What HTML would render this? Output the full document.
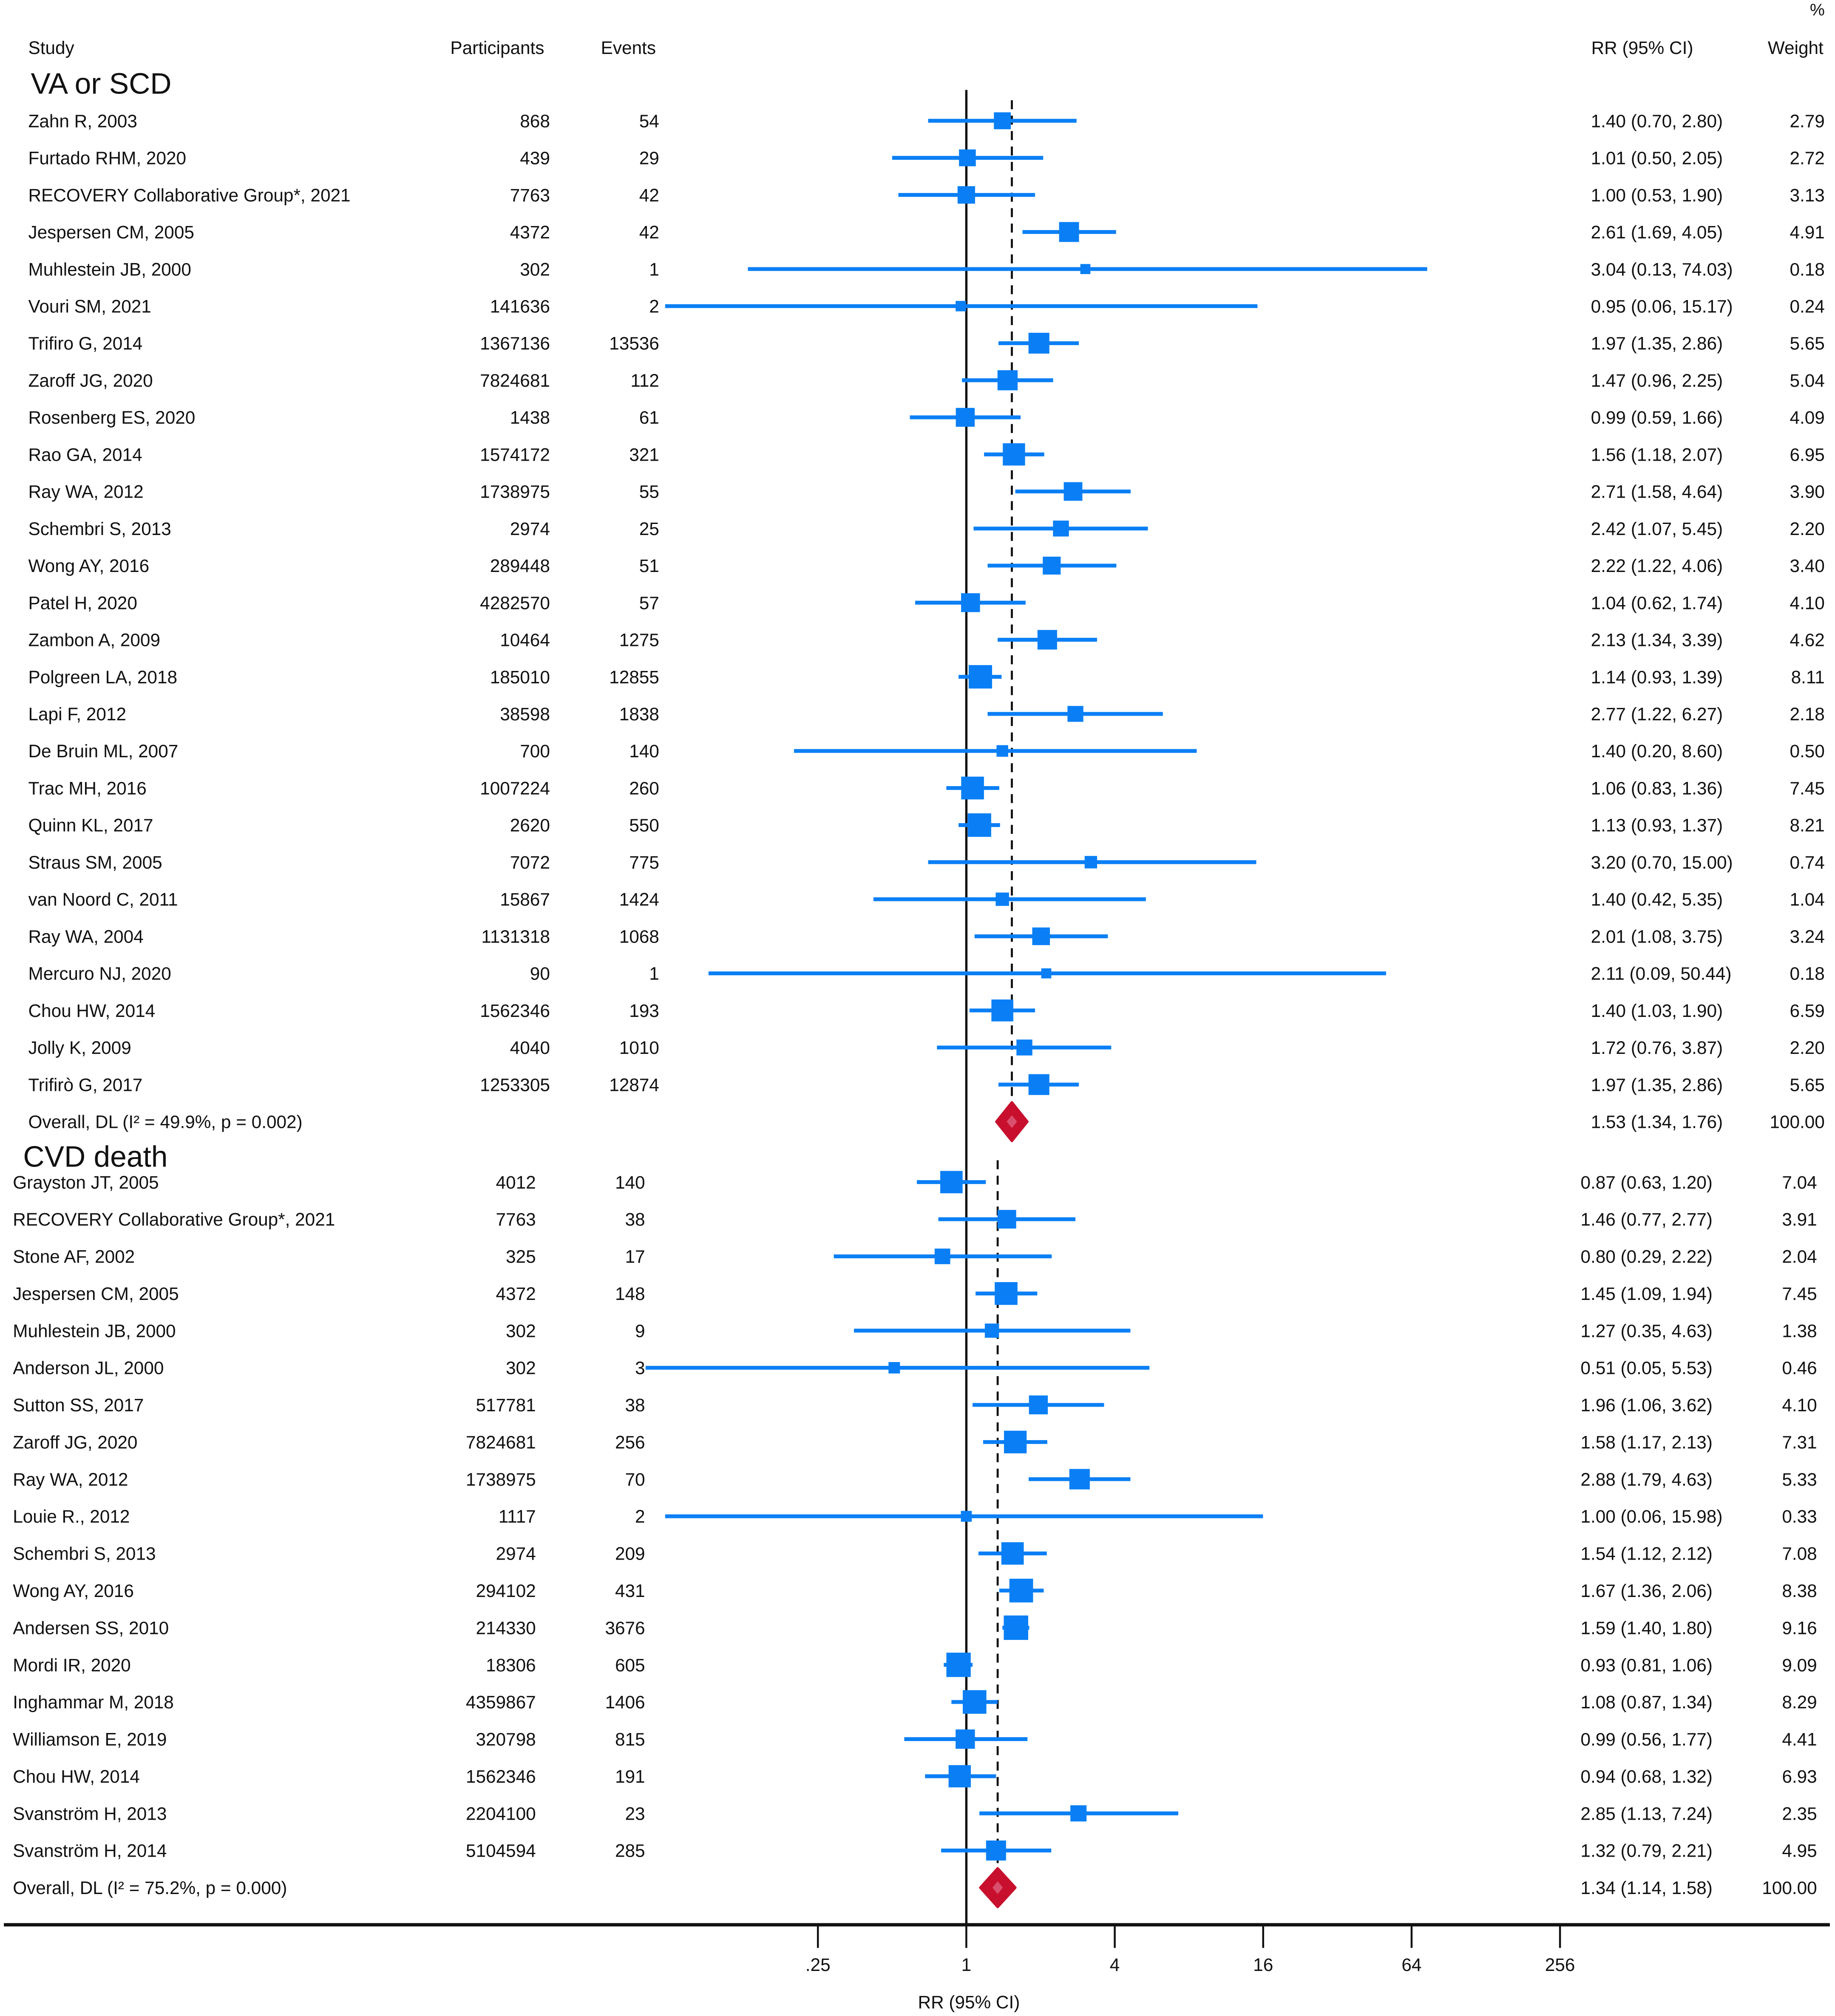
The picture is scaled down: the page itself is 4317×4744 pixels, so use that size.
<!DOCTYPE html>
<html><head><meta charset="utf-8"><style>
html,body{margin:0;padding:0;background:#fff;}
svg{display:block;}
text{font-family:"Liberation Sans",Arial,sans-serif;fill:#111;}
</style></head><body>
<svg id="chart" width="4317" height="4744" viewBox="0 0 1428 1569" preserveAspectRatio="none" xmlns="http://www.w3.org/2000/svg">
<text x="1420" y="12" font-size="13" text-anchor="end">%</text>
<text x="22" y="42" font-size="14">Study</text>
<text x="387" y="42" font-size="14" text-anchor="middle">Participants</text>
<text x="489" y="42" font-size="14" text-anchor="middle">Events</text>
<text x="1278" y="42" font-size="14" text-anchor="middle">RR (95% CI)</text>
<text x="1419" y="42" font-size="14" text-anchor="end">Weight</text>
<text x="24" y="73" font-size="23">VA or SCD</text>
<text x="18" y="908" font-size="23">CVD death</text>
<g id="marks"></g>
<text x="754" y="1563" font-size="14" text-anchor="middle">RR (95% CI)</text>
</svg>
<script>
// Section 1: VA or SCD
const s1Studies = ["Zahn R, 2003","Furtado RHM, 2020","RECOVERY Collaborative Group*, 2021","Jespersen CM, 2005","Muhlestein JB, 2000","Vouri SM, 2021","Trifiro G, 2014","Zaroff JG, 2020","Rosenberg ES, 2020","Rao GA, 2014","Ray WA, 2012","Schembri S, 2013","Wong AY, 2016","Patel H, 2020","Zambon A, 2009","Polgreen LA, 2018","Lapi F, 2012","De Bruin ML, 2007","Trac MH, 2016","Quinn KL, 2017","Straus SM, 2005","van Noord C, 2011","Ray WA, 2004","Mercuro NJ, 2020","Chou HW, 2014","Jolly K, 2009","Trifirò G, 2017"];
const s1Participants = ["868","439","7763","4372","302","141636","1367136","7824681","1438","1574172","1738975","2974","289448","4282570","10464","185010","38598","700","1007224","2620","7072","15867","1131318","90","1562346","4040","1253305"];
const s1Events = ["54","29","42","42","1","2","13536","112","61","321","55","25","51","57","1275","12855","1838","140","260","550","775","1424","1068","1","193","1010","12874"];
const s1RR = [1.40,1.01,1.00,2.61,3.04,0.95,1.97,1.47,0.99,1.56,2.71,2.42,2.22,1.04,2.13,1.14,2.77,1.40,1.06,1.13,3.20,1.40,2.01,2.11,1.40,1.72,1.97];
const s1Lo = [0.70,0.50,0.53,1.69,0.13,0.06,1.35,0.96,0.59,1.18,1.58,1.07,1.22,0.62,1.34,0.93,1.22,0.20,0.83,0.93,0.70,0.42,1.08,0.09,1.03,0.76,1.35];
const s1Hi = [2.80,2.05,1.90,4.05,74.03,15.17,2.86,2.25,1.66,2.07,4.64,5.45,4.06,1.74,3.39,1.39,6.27,8.60,1.36,1.37,15.00,5.35,3.75,50.44,1.90,3.87,2.86];
const s1Weight = [2.79,2.72,3.13,4.91,0.18,0.24,5.65,5.04,4.09,6.95,3.90,2.20,3.40,4.10,4.62,8.11,2.18,0.50,7.45,8.21,0.74,1.04,3.24,0.18,6.59,2.20,5.65];
const s1Overall = [1.53,1.34,1.76];
const s1OverallLabel = "Overall, DL (I² = 49.9%, p = 0.002)";
// Section 2: CVD death
const s2Studies = ["Grayston JT, 2005","RECOVERY Collaborative Group*, 2021","Stone AF, 2002","Jespersen CM, 2005","Muhlestein JB, 2000","Anderson JL, 2000","Sutton SS, 2017","Zaroff JG, 2020","Ray WA, 2012","Louie R., 2012","Schembri S, 2013","Wong AY, 2016","Andersen SS, 2010","Mordi IR, 2020","Inghammar M, 2018","Williamson E, 2019","Chou HW, 2014","Svanström H, 2013","Svanström H, 2014"];
const s2Participants = ["4012","7763","325","4372","302","302","517781","7824681","1738975","1117","2974","294102","214330","18306","4359867","320798","1562346","2204100","5104594"];
const s2Events = ["140","38","17","148","9","3","38","256","70","2","209","431","3676","605","1406","815","191","23","285"];
const s2RR = [0.87,1.46,0.80,1.45,1.27,0.51,1.96,1.58,2.88,1.00,1.54,1.67,1.59,0.93,1.08,0.99,0.94,2.85,1.32];
const s2Lo = [0.63,0.77,0.29,1.09,0.35,0.05,1.06,1.17,1.79,0.06,1.12,1.36,1.40,0.81,0.87,0.56,0.68,1.13,0.79];
const s2Hi = [1.20,2.77,2.22,1.94,4.63,5.53,3.62,2.13,4.63,15.98,2.12,2.06,1.80,1.06,1.34,1.77,1.32,7.24,2.21];
const s2Weight = [7.04,3.91,2.04,7.45,1.38,0.46,4.10,7.31,5.33,0.33,7.08,8.38,9.16,9.09,8.29,4.41,6.93,2.35,4.95];
const s2Overall = [1.34,1.14,1.58];
const s2OverallLabel = "Overall, DL (I² = 75.2%, p = 0.000)";
const tickValues = [0.25,1,4,16,64,256];
const tickLabels = [".25","1","4","16","64","256"];

const NS="http://www.w3.org/2000/svg";
const g=document.getElementById('marks');
function xs(v){return 752+57.75*Math.log2(v);}
function mk(tag,attrs,parent){const e=document.createElementNS(NS,tag);for(const k in attrs)e.setAttribute(k,attrs[k]);(parent||g).appendChild(e);return e;}
function fmt(v){return v.toFixed(2);}
function label(v){return fmt(v);}

function section(cfg){
  const n=cfg.studies.length;
  // dashed overall line
  const dl=mk('line',{x1:xs(cfg.overall[0]),x2:xs(cfg.overall[0]),y1:cfg.dashTop,y2:cfg.y0+n*cfg.step+14,stroke:'#111','stroke-width':1.6,'stroke-dasharray':'7,5'});
  
  
  for(let i=0;i<n;i++){
    const y=cfg.y0+i*cfg.step;
    const t=mk('text',{x:cfg.sx,y:y+5,'font-size':14});t.textContent=cfg.studies[i];
    
    
    const p=mk('text',{x:cfg.px,y:y+5,'font-size':14,'text-anchor':'end'});p.textContent=cfg.parts[i];
    
    
    const ev=mk('text',{x:cfg.ex,y:y+5,'font-size':14,'text-anchor':'end'});ev.textContent=cfg.events[i];
    
    
    const ci=mk('line',{x1:xs(cfg.lo[i]),x2:xs(cfg.hi[i]),y1:y,y2:y,stroke:'#0a7ff5','stroke-width':3});
    
    
    const s=6+Math.sqrt(cfg.w[i])*4.3;
    const sq=mk('rect',{x:xs(cfg.rr[i])-s/2,y:y-s/2,width:s,height:s,fill:'#0a7ff5'});
    
    
    const r=mk('text',{x:cfg.rx,y:y+5,'font-size':14});
    r.textContent=label(cfg.rr[i])+" ("+label(cfg.lo[i])+", "+label(cfg.hi[i])+")";
    
    
    const wt=mk('text',{x:cfg.wx,y:y+5,'font-size':14,'text-anchor':'end'});wt.textContent=fmt(cfg.w[i]);
    
    
  }
  const oy=cfg.y0+n*cfg.step;
  const ot=mk('text',{x:cfg.sx,y:oy+5,'font-size':14});ot.textContent=cfg.olabel;
  
  
  const c=xs(cfg.overall[0]),l=Math.min(xs(cfg.overall[1]),c-12),h=Math.max(xs(cfg.overall[2]),c+12);
  const d=mk('polygon',{points:`${l},${oy} ${c},${oy-15} ${h},${oy} ${c},${oy+15}`,fill:'#c8102e','stroke':'#c8102e','stroke-width':2,'stroke-linejoin':'round'});
  
  
  const d2=mk('polygon',{points:`${c-4},${oy} ${c},${oy-5} ${c+4},${oy} ${c},${oy+5}`,fill:'#d9506e'});
  
  
  const or=mk('text',{x:cfg.rx,y:oy+5,'font-size':14});
  or.textContent=label(cfg.overall[0])+" ("+label(cfg.overall[1])+", "+label(cfg.overall[2])+")";
  
  
  const ow=mk('text',{x:cfg.wx,y:oy+5,'font-size':14,'text-anchor':'end'});ow.textContent="100.00";
  
  
}
// null line
const nl=mk('line',{x1:xs(1),x2:xs(1),y1:70,y2:1498,stroke:'#111','stroke-width':1.8});


section({key:'va-scd',studies:s1Studies,parts:s1Participants,events:s1Events,rr:s1RR,lo:s1Lo,hi:s1Hi,w:s1Weight,overall:s1Overall,olabel:s1OverallLabel,y0:94,step:28.85,sx:22,px:428,ex:513,rx:1238,wx:1420,dashTop:78});
section({key:'cvd-death',studies:s2Studies,parts:s2Participants,events:s2Events,rr:s2RR,lo:s2Lo,hi:s2Hi,w:s2Weight,overall:s2Overall,olabel:s2OverallLabel,y0:920,step:28.9,sx:10,px:417,ex:502,rx:1230,wx:1414,dashTop:903});
// axis
const ax=mk('line',{x1:3,x2:1424,y1:1498,y2:1498,stroke:'#111','stroke-width':2.6});


for(let i=0;i<tickValues.length;i++){
  const x=xs(tickValues[i]);
  const tk=mk('line',{x1:x,x2:x,y1:1498,y2:1516,stroke:'#111','stroke-width':1.5});
  
  
  const tl=mk('text',{x:x,y:1534,'font-size':14,'text-anchor':'middle'});tl.textContent=tickLabels[i];
  
  
}
</script>
</body></html>
